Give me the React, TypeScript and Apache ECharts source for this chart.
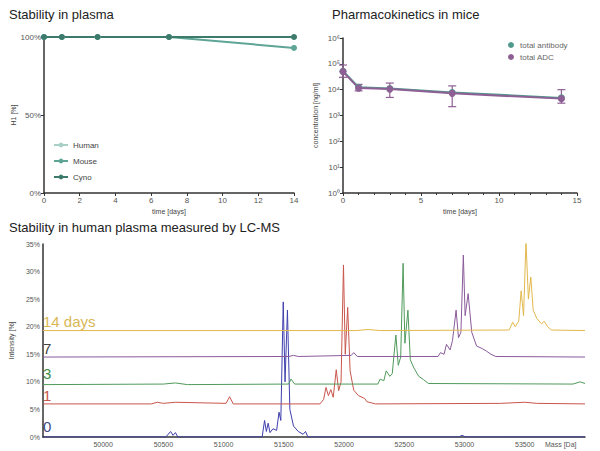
import * as echarts from "echarts"
import { useEffect, useRef } from "react"

const days = [0, 1, 3, 7, 14]
const human = [100, 100, 100, 100, 100]
const mouse = [100, 100, 100, 100, 93]
const cyno = [100, 100, 100, 100, 100]

const pkDays = [0, 1, 3, 7, 14]
const antibody = [52000, 12500, 11000, 7800, 4800]
const adc = [50000, 11500, 10500, 7200, 4500]
const adcLow = [30000, 9000, 5000, 2200, 3000]
const adcHigh = [90000, 16000, 18000, 14000, 10000]

// [mass, intensity %] per time point, baselines included
const trace0 = [
  [49500, 0], [50520, 0], [50560, 1], [50580, 0.3], [50600, 0.8], [50620, 0], [51320, 0],
  [51340, 3], [51355, 1], [51370, 2.5], [51385, 0.8], [51410, 1.5], [51440, 1.2], [51460, 4.5],
  [51475, 3], [51495, 24.5], [51510, 10], [51530, 23], [51550, 5], [51580, 2], [51620, 1],
  [51660, 0.5], [51680, 1], [51700, 0], [52950, 0], [52980, 0.3], [53010, 0], [54000, 0],
]
const trace1 = [
  [49500, 6], [50400, 6], [50450, 6.3], [50500, 6.1], [50600, 6.3], [51020, 6.1], [51050, 7.3],
  [51080, 6], [51800, 6], [51830, 6.8], [51850, 9], [51870, 7.5], [51890, 8.6], [51910, 7.2],
  [51935, 12.2], [51955, 8.4], [51975, 10], [51995, 31.2], [52010, 15], [52030, 23.5],
  [52050, 12], [52080, 8.5], [52120, 7.5], [52170, 7], [52190, 6.4], [52260, 6],
  [53300, 6.1], [53500, 6.3], [53600, 6.1], [54000, 6],
]
const trace3 = [
  [49500, 9.5], [50500, 9.6], [50600, 9.8], [50700, 9.5], [51540, 9.6], [51560, 10.5],
  [51590, 9.6], [52280, 9.6], [52300, 10.5], [52330, 10.2], [52350, 12], [52380, 11],
  [52400, 11.5], [52430, 18.5], [52450, 13], [52470, 14.5], [52490, 31.5], [52505, 17],
  [52530, 23], [52550, 14], [52580, 12.5], [52620, 11], [52660, 10.4], [52700, 9.7],
  [53900, 9.6], [53960, 10], [54000, 9.7],
]
const trace7 = [
  [49500, 14.5], [51540, 14.6], [51580, 14.8], [51620, 14.6], [52060, 14.8], [52080, 15.3],
  [52110, 14.6], [52780, 14.6], [52800, 15.3], [52830, 15], [52850, 16.8], [52880, 15.8],
  [52900, 17.5], [52930, 23], [52950, 18], [52970, 19], [52990, 33], [53005, 22],
  [53030, 26], [53060, 19], [53100, 16.5], [53150, 16], [53180, 15.6], [53220, 15],
  [53260, 14.6], [54000, 14.5],
]
const trace14 = [
  [49500, 19.3], [52100, 19.3], [52200, 19.5], [52300, 19.3], [53370, 19.4], [53400, 20.8],
  [53420, 20], [53450, 21], [53470, 26.5], [53490, 22], [53510, 35.5], [53530, 25],
  [53550, 29], [53570, 23], [53600, 21.5], [53640, 20.5], [53660, 21], [53690, 20],
  [53720, 19.4], [54000, 19.3],
]
const traces = [
  { name: "0", data: trace0, color: "#3f3fae", label: "0" },
  { name: "1", data: trace1, color: "#c8564d", label: "1" },
  { name: "3", data: trace3, color: "#4f9a5a", label: "3" },
  { name: "7", data: trace7, color: "#8a5a9a", label: "7" },
  { name: "14", data: trace14, color: "#e2b84c", label: "14 days" },
]
const labelColors = ["#3f4d8a", "#c8564d", "#3f8a45", "#444444", "#d9b757"]
const labelY = [428, 397, 375, 350, 323]

const sup = ["⁰", "¹", "²", "³", "⁴", "⁵", "⁶"]
const axisText = { color: "#555", fontSize: 8 }
const axisLine = { lineStyle: { color: "#333", width: 1.5 } }

export default function App() {
  const node = useRef<HTMLDivElement>(null)

  useEffect(() => {
    if (!node.current) return
    document.body.style.margin = "0"
    const chart = echarts.init(node.current, undefined, { renderer: "svg" })
    const title = { fontSize: 13, fontWeight: "normal", color: "#222" }
    chart.setOption({
      animation: false,
      textStyle: { fontFamily: "Liberation Sans, Arial, sans-serif" },
      title: [
        { text: "Stability in plasma", left: 4, top: 3, textStyle: title },
        { text: "Pharmacokinetics in mice", left: 327, top: 3, textStyle: title },
        { text: "Stability in human plasma measured by LC-MS", left: 4, top: 216, textStyle: title },
      ],
      grid: [
        { left: 44, top: 37, width: 250, height: 156 },
        { left: 343, top: 38, width: 234, height: 155 },
        { left: 37, top: 244, width: 548, height: 193 },
      ],
      legend: [
        {
          data: ["Human", "Mouse", "Cyno"],
          orient: "vertical",
          left: 48,
          top: 136,
          itemGap: 8,
          itemWidth: 14,
          itemHeight: 6,
          textStyle: { fontSize: 8, color: "#444" },
        },
        {
          data: ["total antibody", "total ADC"],
          orient: "vertical",
          left: 503,
          top: 36,
          itemGap: 4,
          itemWidth: 8,
          itemHeight: 6,
          icon: "circle",
          textStyle: { fontSize: 8, color: "#666" },
        },
      ],
      xAxis: [
        {
          gridIndex: 0, type: "value", min: 0, max: 14, interval: 2,
          name: "time [days]", nameLocation: "middle", nameGap: 15,
          nameTextStyle: { fontSize: 7, color: "#444" },
          axisLabel: { ...axisText, margin: 3 }, axisLine, axisTick: { length: 3 }, splitLine: { show: false },
        },
        {
          gridIndex: 1, type: "value", min: 0, max: 15, interval: 5,
          name: "time [days]", nameLocation: "middle", nameGap: 15,
          nameTextStyle: { fontSize: 7, color: "#444" },
          axisLabel: { ...axisText, margin: 3 }, axisLine, axisTick: { length: 3 },
          minorTick: { show: true, splitNumber: 5, length: 2 }, splitLine: { show: false },
        },
        {
          gridIndex: 2, type: "value", min: 49500, max: 54000, interval: 500,
          name: "Mass [Da]", nameLocation: "end", nameGap: -40,
          nameTextStyle: { fontSize: 7, color: "#555", verticalAlign: "top", padding: [4, 0, 0, 0] },
          axisLabel: {
            ...axisText, fontSize: 7, margin: 4,
            formatter: (v: number) => (v === 49500 || v === 54000 ? "" : String(v)),
          },
          axisLine, axisTick: { show: false }, splitLine: { show: false },
        },
      ],
      yAxis: [
        {
          gridIndex: 0, type: "value", min: 0, max: 100, interval: 50,
          name: "H1 [%]", nameLocation: "middle", nameGap: 26,
          nameTextStyle: { fontSize: 7, color: "#444" },
          axisLabel: { ...axisText, formatter: "{value}%", margin: 3 }, axisLine, axisTick: { show: true, length: 3 },
          splitLine: { show: false },
        },
        {
          gridIndex: 1, type: "log", logBase: 10, min: 1, max: 1e6,
          name: "concentration [ng/ml]", nameLocation: "middle", nameGap: 24,
          nameTextStyle: { fontSize: 7, color: "#444" },
          axisLabel: {
            ...axisText, margin: 3,
            formatter: (v: number) => "10" + sup[Math.round(Math.log10(v))],
          },
          axisLine, axisTick: { show: true, length: 3 }, splitLine: { show: false },
        },
        {
          gridIndex: 2, type: "value", min: 0, max: 35, interval: 5,
          name: "Intensity [%]", nameLocation: "middle", nameGap: 22,
          nameTextStyle: { fontSize: 7, color: "#444" },
          axisLabel: { ...axisText, fontSize: 7, formatter: "{value}%", margin: 3 },
          axisLine, axisTick: { show: false }, splitLine: { show: false },
        },
      ],
      series: [
        ...[
          { name: "Human", data: human, color: "#a8d0c6" },
          { name: "Mouse", data: mouse, color: "#5ea596" },
          { name: "Cyno", data: cyno, color: "#3c7a6b" },
        ].map((s) => ({
          name: s.name, type: "line", xAxisIndex: 0, yAxisIndex: 0,
          data: days.map((d, i) => [d, s.data[i]]),
          symbol: "circle", symbolSize: 6,
          lineStyle: { color: s.color, width: 2 }, itemStyle: { color: s.color },
        })),
        {
          name: "total antibody", type: "line", xAxisIndex: 1, yAxisIndex: 1,
          data: pkDays.map((d, i) => [d, antibody[i]]),
          symbol: "circle", symbolSize: 7,
          lineStyle: { color: "#4f9a8c", width: 2 }, itemStyle: { color: "#4f9a8c" },
        },
        {
          name: "total ADC", type: "line", xAxisIndex: 1, yAxisIndex: 1,
          data: pkDays.map((d, i) => [d, adc[i]]),
          symbol: "circle", symbolSize: 7,
          lineStyle: { color: "#8e5f94", width: 2 }, itemStyle: { color: "#8e5f94" },
        },
        {
          type: "custom", xAxisIndex: 1, yAxisIndex: 1,
          data: pkDays.map((d, i) => [d, adcLow[i], adcHigh[i]]),
          renderItem: (params: any, api: any) => {
            const lo = api.coord([api.value(0), api.value(1)])
            const hi = api.coord([api.value(0), api.value(2)])
            const style = { stroke: "#8e5f94", lineWidth: 1.2 }
            return {
              type: "group",
              children: [
                { type: "line", shape: { x1: lo[0], y1: lo[1], x2: hi[0], y2: hi[1] }, style },
                { type: "line", shape: { x1: lo[0] - 4, y1: lo[1], x2: lo[0] + 4, y2: lo[1] }, style },
                { type: "line", shape: { x1: hi[0] - 4, y1: hi[1], x2: hi[0] + 4, y2: hi[1] }, style },
              ],
            }
          },
          z: 3,
        },
        ...traces.map((t) => ({
          name: t.name, type: "line", xAxisIndex: 2, yAxisIndex: 2,
          data: t.data, showSymbol: false,
          lineStyle: { color: t.color, width: 1 },
        })),
      ],
      graphic: traces.map((t, i) => ({
        type: "text", left: 43, top: labelY[i] - 9,
        style: { text: t.label, fontSize: 15, fill: labelColors[i], fontFamily: "Liberation Sans, Arial, sans-serif" },
      })),
    })
    return () => chart.dispose()
  }, [])

  return <div ref={node} style={{ width: 600, height: 451 }} />
}
